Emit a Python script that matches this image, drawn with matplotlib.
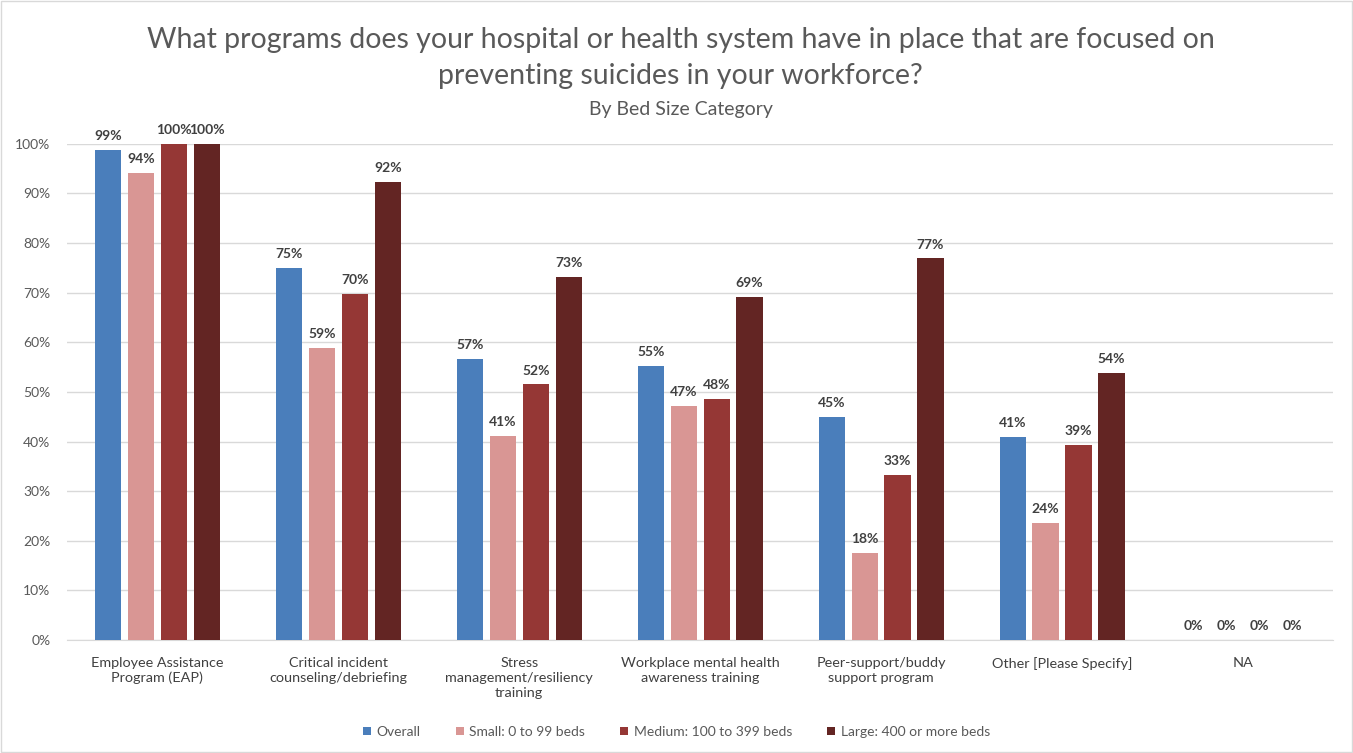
import matplotlib
matplotlib.use("Agg")
import matplotlib.pyplot as plt
import numpy as np
from matplotlib.patches import Rectangle

plt.rcParams['font.family'] = ['Lato', 'DejaVu Sans']

categories = ["Employee Assistance\nProgram (EAP)", "Critical incident\ncounseling/debriefing",
              "Stress\nmanagement/resiliency\ntraining", "Workplace mental health\nawareness training",
              "Peer-support/buddy\nsupport program", "Other [Please Specify]", "NA"]
series_names = ["Overall", "Small: 0 to 99 beds", "Medium: 100 to 399 beds", "Large: 400 or more beds"]
overall = [98.8, 75.0, 56.7, 55.2, 45.0, 40.9, 0]
small = [94.1, 58.9, 41.2, 47.1, 17.6, 23.5, 0]
medium = [100, 69.7, 51.5, 48.5, 33.3, 39.4, 0]
large = [100, 92.3, 73.1, 69.2, 76.9, 53.8, 0]
labels = [["99%", "75%", "57%", "55%", "45%", "41%", "0%"],
          ["94%", "59%", "41%", "47%", "18%", "24%", "0%"],
          ["100%", "70%", "52%", "48%", "33%", "39%", "0%"],
          ["100%", "92%", "73%", "69%", "77%", "54%", "0%"]]
colors = ["#4A7EBB", "#D99694", "#953735", "#632523"]

fig = plt.figure(figsize=(13.53, 7.53), dpi=100)
ax = fig.add_axes([0.0495, 0.150, 0.936, 0.659])

x = np.arange(len(categories))
pitch = 0.182
width = 0.145
for i, vals in enumerate([overall, small, medium, large]):
    pos = x + (i - 1.5) * pitch
    ax.bar(pos, vals, width=width, color=colors[i], label=series_names[i], zorder=3)
    for p, v, t in zip(pos, vals, labels[i]):
        ax.text(p, v + 1.6, t, ha='center', va='bottom', fontsize=10,
                fontweight='bold', color='#404040')

ax.set_xlim(-0.5, len(categories) - 0.5)
ax.set_ylim(0, 100)
ax.set_yticks(np.arange(0, 101, 10))
ax.set_yticklabels([f"{v}%" for v in range(0, 101, 10)], fontsize=10, color='#595959')
ax.set_xticks(x)
ax.set_xticklabels(categories, fontsize=10.4, color='#404040', linespacing=1.3)
ax.tick_params(axis='x', length=0, pad=12)
ax.tick_params(axis='y', length=0, pad=12)
ax.grid(axis='y', color='#D9D9D9', linewidth=1, zorder=0)
for s in ['top', 'right', 'left']:
    ax.spines[s].set_visible(False)
ax.spines['bottom'].set_color('#D9D9D9')
ax.set_axisbelow(True)

fig.text(0.503, 0.947, "What programs does your hospital or health system have in place that are focused on",
         ha='center', va='center', fontsize=20.5, color='#595959')
fig.text(0.503, 0.899, "preventing suicides in your workforce?",
         ha='center', va='center', fontsize=20.5, color='#595959')
fig.text(0.503, 0.855, "By Bed Size Category", ha='center', va='center', fontsize=14, color='#595959')

leg = fig.legend(loc='center', bbox_to_anchor=(0.5, 0.028), ncol=4, frameon=False,
                 fontsize=10, handlelength=0.6, handleheight=0.6, handletextpad=0.4,
                 columnspacing=2.5, labelcolor='#595959')

fig.patches.append(Rectangle((0.001, 0.001), 0.998, 0.998, transform=fig.transFigure,
                             fill=False, edgecolor='#D9D9D9', linewidth=1))

fig.savefig("out.png", dpi=100, facecolor='white')
